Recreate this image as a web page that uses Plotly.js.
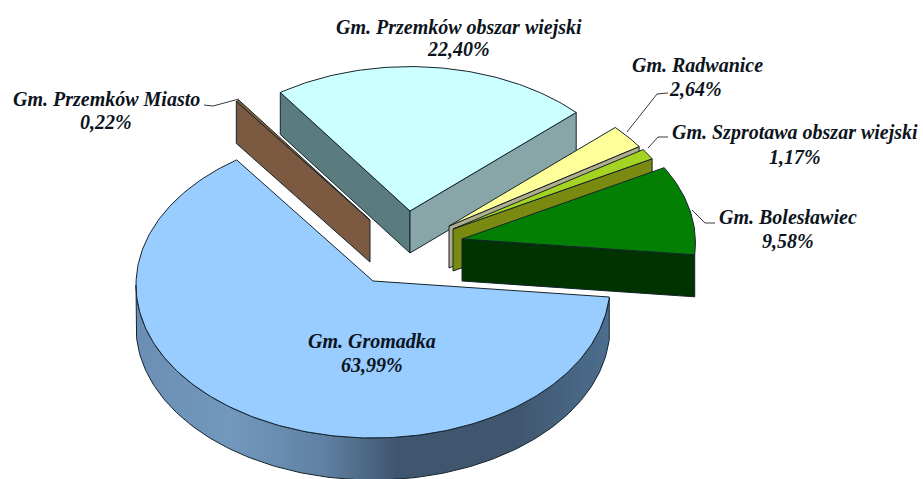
<!DOCTYPE html>
<html>
<head>
<meta charset="utf-8">
<script src="https://cdn.plot.ly/plotly-3.0.1.min.js"></script>
<style>html,body{margin:0;padding:0;background:#fff}#c{width:923px;height:479px}</style>
</head>
<body>
<div id="c"></div>
<script>
// Data, in clockwise pie order
const names  = ['Gm. Gromadka','Gm. Przemków Miasto','Gm. Przemków obszar wiejski','Gm. Radwanice','Gm. Szprotawa obszar wiejski','Gm. Bolesławiec'];
const shares = [63.99, 0.22, 22.40, 2.64, 1.17, 9.58];

// Styles
const topColors   = ['#99ccff','#8a6038','#ccffff','#ffff99','#a4d321','#038003'];
const startWalls  = ['#5f83a6','#7b5a41','#5a7c7e','#8c8c60','#7a8a10','#003300'];
const endWalls    = ['#5f83a6','#7b5a41','#88a6a8','#b0ad8c','#7a8a10','#003300'];
const edgeColor = '#15242c';

// Exploded-pie geometry (pixel-scaled projection of the pie)
const apexX = [373, 370, 410, 449, 453, 462];
const apexY = [281, 220, 211, 226, 229, 239];
const radiusScale = [1, 0.98, 0.97, 0.97, 0.97, 0.985];
const RX = 237, RY = 153, RIM_DY = 4, DEPTH = 42, START_ANGLE = -4.5;
const paintOrder = [1, 2, 3, 4, 5, 0];

// Label placement
const nameX  = [372, 106, 459, 697, 795, 788];
const nameY  = [341, 99, 27, 65, 132, 217];
const valueX = [372, 106, 458, 695, 795, 788];
const valueY = [365, 122, 49, 89, 157, 241];
const LABEL_SIZE = 20;

const rad = d => d * Math.PI / 180;
function rim(i, a) {
  return [apexX[i] + RX * radiusScale[i] * Math.cos(rad(a)),
          apexY[i] + RIM_DY - RY * radiusScale[i] * Math.sin(rad(a))];
}
const total = shares.reduce((p, v) => p + v, 0);
const angles = [];
let cursor = START_ANGLE;
shares.forEach(v => {
  const sweep = v / total * 360;
  angles.push([cursor, cursor - sweep]);
  cursor -= sweep;
});

function poly(pts, fill, name, extra) {
  const x = pts.map(p => p[0]).concat(pts[0][0]);
  const y = pts.map(p => p[1]).concat(pts[0][1]);
  return Object.assign({
    type: 'scatter', mode: 'lines', x, y, fill: 'toself', fillcolor: fill, name,
    line: {color: edgeColor, width: 1}, hoverinfo: 'text', text: name, showlegend: false
  }, extra || {});
}
function sweepPts(i, from, to) {
  const pts = [];
  const n = Math.max(2, Math.ceil(Math.abs(to - from)));
  for (let k = 0; k <= n; k++) pts.push(rim(i, from + (to - from) * k / n));
  return pts;
}
const blueWallGradient = {type: 'horizontal', colorscale: [
  [0, '#6b8fb4'], [0.2, '#7398bd'], [0.4, '#5f80a2'], [0.55, '#40566f'],
  [0.8, '#40566f'], [1, '#4d6e8f']]};

const traces = [];
paintOrder.forEach(i => {
  const [startA, endA] = angles[i];
  const A = [apexX[i], apexY[i]];
  const down = p => [p[0], p[1] + DEPTH];
  const label = names[i];
  if (Math.sin(rad(startA + 90)) < 0) {
    const r = rim(i, startA);
    traces.push(poly([A, r, down(r), down(A)], startWalls[i], label));
  }
  if (Math.sin(rad(endA - 90)) < 0) {
    const r = rim(i, endA);
    traces.push(poly([A, r, down(r), down(A)], endWalls[i], label));
  }
  const hi = Math.min(startA, 0), lo = Math.max(endA, -180);
  if (hi > lo) {
    const arc = sweepPts(i, hi, lo);
    const wall = arc.concat(arc.slice().reverse().map(down));
    traces.push(poly(wall, i === 0 ? '#5f83a6' : endWalls[i], label,
      i === 0 ? {fillgradient: blueWallGradient} : {}));
  }
  traces.push(poly([A].concat(sweepPts(i, startA, endA)), topColors[i], label));
});

const pct = v => v.toFixed(2).replace('.', ',') + '%';
const labelFont = {family: '"Liberation Serif", serif', size: LABEL_SIZE, color: '#0c1420'};
const note = (x, y, t) => ({
  x, y, xref: 'x', yref: 'y', showarrow: false, text: '<b><i>' + t + '</i></b>',
  xanchor: 'center', yanchor: 'middle', font: labelFont
});
const annotations = names.map((n, i) => note(nameX[i], nameY[i], n))
  .concat(shares.map((v, i) => note(valueX[i], valueY[i], pct(v))));

const leader = d => ({type: 'path', path: d, xref: 'x', yref: 'y', layer: 'above',
  line: {color: '#3a3a3a', width: 1}});

const layout = {
  width: 923, height: 479,
  margin: {l: 0, r: 0, t: 0, b: 0},
  paper_bgcolor: '#ffffff', plot_bgcolor: '#ffffff',
  showlegend: false,
  xaxis: {range: [0, 923], visible: false, fixedrange: true},
  yaxis: {range: [479, 0], visible: false, fixedrange: true},
  annotations,
  shapes: [
    leader('M 204 105 L 213 106 L 239 99'),
    leader('M 668 93 L 657 94 L 627 132'),
    leader('M 668 137 L 658 137 L 648 148'),
    leader('M 715 223 L 705 223 L 692 210')
  ]
};
Plotly.newPlot('c', traces, layout, {displayModeBar: false, staticPlot: true});
</script>
</body>
</html>
